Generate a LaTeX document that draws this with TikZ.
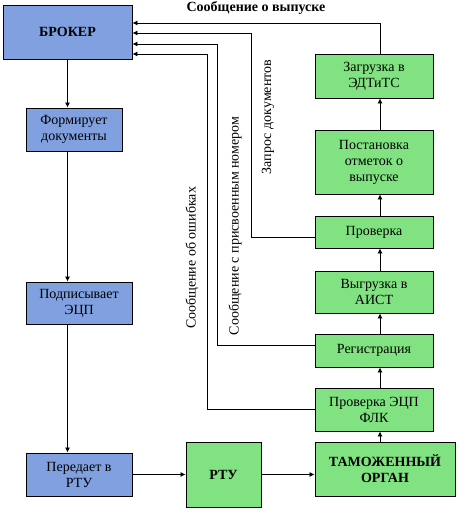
\documentclass[tikz,border=0pt]{standalone}
\usepackage{fontspec}
\setmainfont{Liberation Serif}
\usetikzlibrary{arrows.meta,positioning}
\definecolor{brokerblue}{RGB}{128,160,224}
\definecolor{stagegreen}{RGB}{128,226,128}

\begin{document}
\begin{tikzpicture}[x=1pt,y=1pt,on grid,
    font=\fontsize{14}{16}\selectfont,
    box/.style={draw,line width=0.9pt,align=center,inner sep=0pt},
    blue/.style={box,fill=brokerblue},
    green/.style={box,fill=stagegreen,minimum width=118pt},
    bold/.style={font=\fontsize{14}{16}\selectfont\bfseries},
    arr/.style={-{Latex[length=5pt,width=5pt]},line width=0.8pt},
    lbl/.style={rotate=90,inner sep=0pt}]
				\useasboundingbox (0,0) rectangle (473,514);

				\node[blue,bold,minimum width=129pt,minimum height=54pt] (broker) at (67.5,482) {БРОКЕР};
				\node[blue,minimum width=96pt,minimum height=43pt]  (form) [below right=97.5 and 6.5 of broker] {Формирует\\документы};
				\node[blue,minimum width=106pt,minimum height=42pt] (sign) [below right=173.5 and 5 of form]   {Подписывает\\ЭЦП};
				\node[blue,minimum width=106pt,minimum height=43pt] (send) [below=171.5 of sign]               {Передает в\\РТУ};
				\node[box,bold,fill=stagegreen,minimum width=75pt,minimum height=65pt]  (rtu)     [right=144.5 of send] {РТУ};
				\node[box,bold,fill=stagegreen,minimum width=140pt,minimum height=54pt] (customs) [above right=5.5 and 161.5 of rtu] {ТАМОЖЕННЫЙ\\ОРГАН};
				\node[green,minimum height=43pt] (flk)   [above left=59.5 and 11 of customs] {Проверка ЭЦП\\ФЛК};
				\node[green,minimum height=33pt] (reg)   [above=59 of flk]    {Регистрация};
				\node[green,minimum height=42pt] (aist)  [above=58.5 of reg]  {Выгрузка в\\АИСТ};
				\node[green,minimum height=32pt] (check) [above=60 of aist]   {Проверка};
				\node[green,minimum height=64pt] (mark)  [above=70 of check]  {Постановка\\отметок о\\выпуске};
				\node[green,minimum height=44pt] (load)  [above=86 of mark]   {Загрузка в\\ЭДТиТС};

				\coordinate (gcol) at ([xshift=6pt]load.north);

				% broker side
				\path [arr]
				(broker.south)             edge (broker.south |- form.north)
				(broker.south |- form.south) edge (broker.south |- sign.north)
				(broker.south |- sign.south) edge (broker.south |- send.north)
				(send.east)                edge (rtu.west)
				(rtu.east)                 edge (rtu.east -| customs.west);

				% customs side
				\path [arr]
				(gcol |- customs.north) edge (gcol |- flk.south)
				(gcol |- flk.north)     edge (gcol |- reg.south)
				(gcol |- reg.north)     edge (gcol |- aist.south)
				(gcol |- aist.north)    edge (gcol |- check.south)
				(gcol |- check.north)   edge (gcol |- mark.south)
				(gcol |- mark.north)    edge (gcol |- load.south);

				% answers to the broker
				\draw[arr] (gcol |- load.north) |- ([yshift=9pt]broker.east);
				\draw[arr] ([yshift=-5pt]check.west) -- ++(-63,0) |- ([yshift=-1pt]broker.east);
				\draw[arr] ([yshift=5pt]reg.west) -- ++(-97,0) |- ([yshift=-12pt]broker.east);
				\draw[arr] ([yshift=0.5pt]flk.west) -- ++(-107,0) |- ([yshift=-22pt]broker.east);

				\node[bold,inner sep=0pt] (release) at (256,506) {Сообщение о выпуске};
				\node[lbl] (request) at (268,397) {Запрос документов};
				\node[lbl] (number)  at (235,288) {Сообщение с присвоенным номером};
				\node[lbl] (errors)  at (192,256) {Сообщение об ошибках};

			\end{tikzpicture}
\end{document}
